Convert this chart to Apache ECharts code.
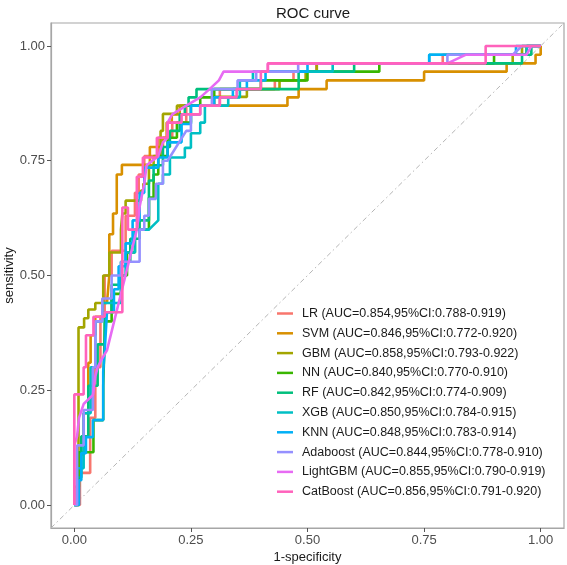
<!DOCTYPE html>
<html>
<head>
<meta charset="utf-8">
<script src="https://cdn.jsdelivr.net/npm/echarts@6/dist/echarts.min.js"></script>
<style>
html, body { margin: 0; padding: 0; background: #fff; }
#main { width: 567px; height: 565px; }
</style>
</head>
<body>
<div id="main"></div>
<script>
// model names and legend text
var models = ['LR', 'SVM', 'GBM', 'NN', 'RF', 'XGB', 'KNN', 'Adaboost', 'LightGBM', 'CatBoost'];
var aucLabels = [
    '(AUC=0.854,95%CI:0.788-0.919)',
    '(AUC=0.846,95%CI:0.772-0.920)',
    '(AUC=0.858,95%CI:0.793-0.922)',
    '(AUC=0.840,95%CI:0.770-0.910)',
    '(AUC=0.842,95%CI:0.774-0.909)',
    '(AUC=0.850,95%CI:0.784-0.915)',
    '(AUC=0.848,95%CI:0.783-0.914)',
    '(AUC=0.844,95%CI:0.778-0.910)',
    '(AUC=0.855,95%CI:0.790-0.919)',
    '(AUC=0.856,95%CI:0.791-0.920)'
];
var colors = ['#F8766D', '#D89000', '#A3A500', '#39B600', '#00BF7D', '#00BFC4', '#00B0F6', '#9590FF', '#E76BF3', '#FF62BC'];
var tickValues = [0, 0.25, 0.5, 0.75, 1];

// ROC points [1-specificity, sensitivity]
var lrRoc = [[0,0],[0.012,0],[0.012,0.07],[0.034,0.07],[0.034,0.19],[0.045,0.19],[0.045,0.3],[0.056,0.3],[0.056,0.41],[0.065,0.41],[0.065,0.5],[0.08,0.5],[0.08,0.554],[0.11,0.554],[0.11,0.63],[0.13,0.63],[0.13,0.68],[0.138,0.68],[0.138,0.72],[0.15,0.72],[0.15,0.76],[0.18,0.76],[0.18,0.8],[0.21,0.8],[0.21,0.833],[0.24,0.833],[0.24,0.87],[0.312,0.87],[0.312,0.906],[0.43,0.906],[0.43,0.925],[0.47,0.925],[0.47,0.944],[0.519,0.944],[0.519,0.962],[0.79,0.962],[0.79,0.981],[0.97,0.981],[0.97,1],[1,1]];
var svmRoc = [[0,0],[0,0.04],[0.01,0.04],[0.01,0.11],[0.02,0.11],[0.02,0.2],[0.03,0.2],[0.03,0.31],[0.035,0.31],[0.035,0.37],[0.045,0.37],[0.045,0.41],[0.06,0.41],[0.06,0.44],[0.07,0.44],[0.075,0.5],[0.075,0.59],[0.083,0.59],[0.083,0.635],[0.091,0.635],[0.091,0.72],[0.102,0.72],[0.102,0.741],[0.162,0.741],[0.162,0.78],[0.19,0.78],[0.19,0.8],[0.198,0.8],[0.198,0.833],[0.209,0.833],[0.209,0.851],[0.226,0.851],[0.226,0.87],[0.457,0.87],[0.457,0.888],[0.481,0.888],[0.481,0.906],[0.541,0.906],[0.541,0.925],[0.75,0.925],[0.75,0.944],[0.927,0.944],[0.927,0.962],[0.989,0.962],[0.989,0.981],[1,0.981],[1,1]];
var gbmRoc = [[0,0],[0.009,0],[0.009,0.387],[0.021,0.387],[0.021,0.407],[0.03,0.407],[0.03,0.426],[0.045,0.426],[0.045,0.44],[0.062,0.44],[0.062,0.5],[0.075,0.5],[0.075,0.55],[0.1,0.55],[0.1,0.6],[0.103,0.6],[0.103,0.635],[0.11,0.635],[0.11,0.663],[0.143,0.663],[0.143,0.685],[0.148,0.685],[0.148,0.7],[0.16,0.7],[0.16,0.74],[0.17,0.74],[0.17,0.76],[0.185,0.76],[0.185,0.815],[0.19,0.815],[0.19,0.852],[0.22,0.852],[0.22,0.87],[0.3,0.87],[0.3,0.889],[0.37,0.889],[0.37,0.906],[0.44,0.906],[0.44,0.925],[0.496,0.925],[0.496,0.944],[0.52,0.944],[0.52,0.962],[0.94,0.962],[0.94,0.981],[0.96,0.981],[0.96,1],[1,1]];
var nnRoc = [[0,0],[0.009,0],[0.009,0.115],[0.041,0.115],[0.041,0.185],[0.062,0.185],[0.062,0.26],[0.066,0.26],[0.066,0.4],[0.08,0.4],[0.08,0.46],[0.1,0.46],[0.1,0.5],[0.113,0.5],[0.113,0.55],[0.13,0.55],[0.13,0.6],[0.16,0.6],[0.16,0.67],[0.17,0.67],[0.17,0.72],[0.18,0.72],[0.18,0.76],[0.2,0.76],[0.2,0.8],[0.22,0.8],[0.22,0.833],[0.25,0.833],[0.25,0.87],[0.27,0.87],[0.27,0.888],[0.3,0.888],[0.3,0.906],[0.4,0.906],[0.4,0.925],[0.5,0.925],[0.5,0.944],[0.654,0.944],[0.654,0.962],[0.9,0.962],[0.9,0.981],[0.97,0.981],[0.97,1],[1,1]];
var rfRoc = [[0,0],[0.006,0],[0.006,0.06],[0.015,0.06],[0.015,0.15],[0.03,0.15],[0.03,0.26],[0.05,0.26],[0.05,0.35],[0.065,0.35],[0.065,0.42],[0.08,0.42],[0.08,0.48],[0.1,0.48],[0.1,0.53],[0.12,0.53],[0.12,0.58],[0.14,0.58],[0.14,0.62],[0.16,0.62],[0.16,0.707],[0.17,0.707],[0.17,0.74],[0.19,0.74],[0.19,0.78],[0.205,0.78],[0.205,0.815],[0.226,0.815],[0.226,0.851],[0.237,0.851],[0.237,0.87],[0.245,0.87],[0.245,0.888],[0.262,0.888],[0.262,0.906],[0.481,0.906],[0.481,0.944],[0.6,0.944],[0.6,0.962],[0.96,0.962],[0.96,0.981],[0.98,0.981],[0.98,1],[1,1]];
var xgbRoc = [[0,0],[0.006,0],[0.006,0.08],[0.02,0.08],[0.02,0.2],[0.035,0.2],[0.035,0.3],[0.045,0.3],[0.045,0.4],[0.06,0.4],[0.06,0.44],[0.1,0.44],[0.1,0.5],[0.11,0.5],[0.11,0.55],[0.13,0.55],[0.13,0.6],[0.16,0.6],[0.18,0.62],[0.18,0.7],[0.19,0.7],[0.19,0.72],[0.205,0.72],[0.205,0.757],[0.237,0.757],[0.237,0.778],[0.25,0.778],[0.25,0.81],[0.27,0.81],[0.27,0.833],[0.28,0.833],[0.28,0.87],[0.33,0.87],[0.33,0.888],[0.355,0.888],[0.355,0.925],[0.383,0.925],[0.383,0.944],[0.554,0.944],[0.554,0.962],[0.761,0.962],[0.761,0.981],[0.97,0.981],[0.97,1],[1,1]];
var knnRoc = [[0,0],[0.01,0],[0.01,0.054],[0.015,0.054],[0.015,0.113],[0.025,0.113],[0.025,0.148],[0.04,0.148],[0.04,0.185],[0.062,0.185],[0.062,0.29],[0.066,0.29],[0.066,0.35],[0.07,0.35],[0.07,0.42],[0.085,0.42],[0.085,0.47],[0.095,0.47],[0.095,0.52],[0.11,0.52],[0.11,0.57],[0.125,0.57],[0.125,0.62],[0.14,0.62],[0.14,0.68],[0.15,0.68],[0.15,0.735],[0.18,0.735],[0.18,0.757],[0.2,0.757],[0.2,0.79],[0.23,0.79],[0.23,0.83],[0.25,0.83],[0.25,0.87],[0.3,0.87],[0.3,0.888],[0.34,0.888],[0.34,0.906],[0.37,0.906],[0.37,0.925],[0.41,0.925],[0.41,0.944],[0.5,0.944],[0.5,0.962],[0.761,0.962],[0.761,0.981],[0.947,0.981],[0.947,1],[1,1]];
var adaRoc = [[0,0],[0.006,0],[0.006,0.13],[0.02,0.13],[0.02,0.207],[0.04,0.207],[0.04,0.3],[0.045,0.3],[0.045,0.4],[0.06,0.4],[0.06,0.45],[0.08,0.45],[0.08,0.5],[0.1,0.5],[0.1,0.53],[0.14,0.53],[0.14,0.6],[0.15,0.6],[0.15,0.63],[0.16,0.63],[0.16,0.667],[0.175,0.667],[0.175,0.7],[0.19,0.7],[0.19,0.75],[0.2,0.75],[0.24,0.815],[0.25,0.815],[0.25,0.85],[0.27,0.85],[0.27,0.87],[0.295,0.87],[0.295,0.906],[0.35,0.906],[0.35,0.925],[0.39,0.925],[0.39,0.944],[0.48,0.944],[0.48,0.962],[0.8,0.962],[0.8,0.981],[0.94,0.981],[0.96,1],[1,1]];
var lgbRoc = [[0,0],[0,0.13],[0.006,0.15],[0.01,0.19],[0.02,0.22],[0.04,0.24],[0.045,0.28],[0.05,0.3],[0.06,0.32],[0.07,0.337],[0.135,0.604],[0.14,0.65],[0.15,0.7],[0.155,0.74],[0.18,0.76],[0.19,0.79],[0.2,0.8],[0.2,0.833],[0.21,0.851],[0.24,0.87],[0.27,0.888],[0.29,0.906],[0.31,0.925],[0.32,0.944],[0.415,0.944],[0.415,0.962],[0.8,0.962],[0.84,0.981],[0.97,0.981],[0.98,1],[1,1]];
var catRoc = [[0,0],[0,0.241],[0.02,0.241],[0.02,0.3],[0.025,0.3],[0.025,0.37],[0.041,0.37],[0.041,0.41],[0.065,0.41],[0.065,0.42],[0.103,0.42],[0.103,0.648],[0.115,0.648],[0.115,0.6],[0.134,0.6],[0.134,0.715],[0.147,0.715],[0.147,0.757],[0.177,0.757],[0.177,0.8],[0.2,0.8],[0.2,0.833],[0.23,0.833],[0.23,0.851],[0.27,0.851],[0.27,0.87],[0.312,0.87],[0.312,0.888],[0.348,0.888],[0.348,0.906],[0.4,0.906],[0.4,0.944],[0.415,0.944],[0.415,0.962],[0.882,0.962],[0.882,1],[1,1]];

var rocData = [lrRoc, svmRoc, gbmRoc, nnRoc, rfRoc, xgbRoc, knnRoc, adaRoc, lgbRoc, catRoc];
var refLine = [[-0.05, -0.05], [1.05, 1.05]];

var myChart = echarts.init(document.getElementById('main'));

var names = [];
var series = [];
series.push({
    name: 'ref',
    type: 'line',
    data: refLine,
    showSymbol: false,
    silent: true,
    lineStyle: { color: '#b5b5b5', width: 1, type: [5, 3, 1.5, 3] }
});
for (var i = 0; i < models.length; i++) {
    names.push(models[i] + ' ' + aucLabels[i]);
    series.push({
        name: names[i],
        type: 'line',
        data: rocData[i],
        showSymbol: false,
        color: colors[i],
        lineStyle: { color: colors[i], width: 2.6 }
    });
}

var axisTextStyle = { fontFamily: 'Liberation Sans', fontSize: 13, color: '#1a1a1a' };

var option = {
    animation: false,
    title: {
        text: 'ROC curve',
        left: 308,
        top: 1,
        textAlign: 'center',
        textStyle: { fontFamily: 'Liberation Sans', fontSize: 15, fontWeight: 'normal', color: '#1a1a1a' }
    },
    grid: {
        left: 51, right: 3, top: 23, bottom: 37,
        show: true, borderColor: '#a6a6a6', borderWidth: 1.2,
        containLabel: false,
        outerBoundsMode: 'none'
    },
    legend: {
        data: names,
        orient: 'vertical',
        left: 277,
        top: 307,
        padding: 0,
        icon: 'rect',
        itemWidth: 16,
        itemHeight: 2.5,
        itemGap: 6.8,
        textStyle: { fontFamily: 'Liberation Sans', fontSize: 12.5, color: '#1a1a1a', padding: [0, 0, 0, 4] }
    },
    xAxis: {
        type: 'value',
        min: -0.05,
        max: 1.05,
        name: '1-specificity',
        nameLocation: 'middle',
        nameGap: 23,
        nameMoveOverlap: false,
        nameTextStyle: axisTextStyle,
        axisLine: { show: true, onZero: false, lineStyle: { color: '#a6a6a6', width: 1.2 } },
        splitLine: { show: false },
        axisTick: { show: true, inside: false, customValues: tickValues, length: 4, lineStyle: { color: '#555555', width: 1 } },
        axisLabel: {
            customValues: tickValues,
            margin: 6,
            fontFamily: 'Liberation Sans', fontSize: 13, color: '#4d4d4d',
            formatter: function (v) { return v.toFixed(2); }
        }
    },
    yAxis: {
        type: 'value',
        min: -0.05,
        max: 1.05,
        name: 'sensitivity',
        nameLocation: 'middle',
        nameGap: 35,
        nameMoveOverlap: false,
        nameTextStyle: axisTextStyle,
        axisLine: { show: true, onZero: false, lineStyle: { color: '#a6a6a6', width: 1.2 } },
        splitLine: { show: false },
        axisTick: { show: true, inside: false, customValues: tickValues, length: 4, lineStyle: { color: '#555555', width: 1 } },
        axisLabel: {
            customValues: tickValues,
            margin: 6,
            fontFamily: 'Liberation Sans', fontSize: 13, color: '#4d4d4d',
            formatter: function (v) { return v.toFixed(2); }
        }
    },
    series: series
};
myChart.setOption(option);
</script>
</body>
</html>
